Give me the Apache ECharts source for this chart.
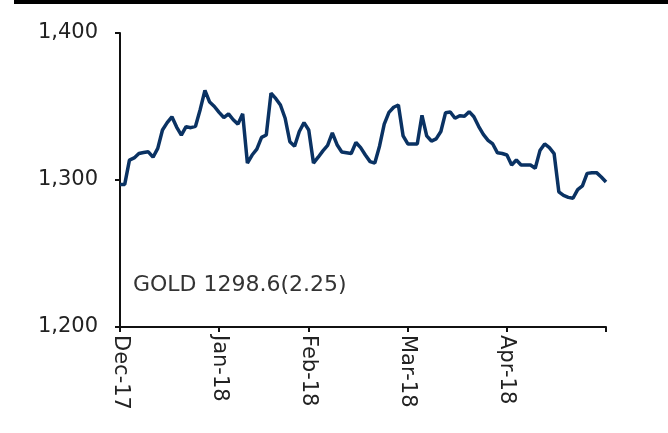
<!DOCTYPE html>
<html>
<head>
<meta charset="utf-8">
<script src="https://cdn.jsdelivr.net/npm/echarts@6/dist/echarts.min.js"></script>
<style>
  html, body { margin: 0; padding: 0; background: #fff; }
  #chart { width: 668px; height: 433px; }
</style>
</head>
<body>
<div id="chart"></div>
<script>
// month labels and how many points fall in each month on the axis
const months = ['Dec-17', 'Jan-18', 'Feb-18', 'Mar-18', 'Apr-18'];
const monthPoints = [21, 19, 21, 21, 22];

// gold price
const gold = [
  1297, 1297, 1313.5, 1315, 1318, 1318.7, 1319.2, 1315.5, 1321.5, 1334,
  1339, 1343, 1336, 1330.5, 1336.3, 1335.6, 1336.5, 1348, 1361, 1353,
  1350, 1346, 1342.5, 1345, 1341, 1338, 1345, 1311.5, 1317, 1321,
  1329, 1330.6, 1359, 1355.5, 1351, 1342, 1326, 1323, 1333, 1339,
  1334, 1311.5, 1315.5, 1319.8, 1323.5, 1332, 1324, 1319, 1318.5, 1318,
  1325.5, 1322, 1317, 1312.5, 1311.5, 1323, 1338, 1346, 1349.5, 1351,
  1330, 1324.5, 1324.5, 1324.5, 1344, 1330, 1326.5, 1328, 1333, 1345.8,
  1346.3, 1342, 1343.7, 1343.3, 1346.5, 1343, 1336.5, 1331, 1327, 1324.5,
  1318.5, 1318, 1317, 1310.2, 1313.6, 1310.2, 1310.2, 1310.2, 1308, 1320,
  1324.5, 1322, 1318, 1292, 1289.5, 1288.2, 1287.6, 1293.5, 1296, 1304.5,
  1305, 1305, 1302, 1298.6
];

const yTicks = [1200, 1300, 1400];
const caption = 'GOLD 1298.6(2.25)';

// build categories: one entry per point, month name + position
const categories = [];
const monthStarts = new Set();
months.forEach((m, k) => {
  for (let j = 0; j < monthPoints[k]; j++) {
    if (j === 0) monthStarts.add(categories.length);
    categories.push(m + ' ' + j);
  }
});
categories.length = gold.length;
const lastIdx = gold.length - 1;

const chart = echarts.init(document.getElementById('chart'));

const axisColor = '#111';
const font = '"DejaVu Sans", sans-serif';

chart.setOption({
  animation: false,
  grid: { left: 120, right: 62, top: 33, bottom: 106 },
  graphic: [
    {
      type: 'rect',
      left: 14, top: 0,
      shape: { width: 654, height: 4 },
      style: { fill: '#000' }
    },
    {
      type: 'text',
      left: 133, top: 274,
      style: {
        text: caption,
        fill: '#333',
        font: '22px ' + font
      }
    }
  ],
  xAxis: {
    type: 'category',
    data: categories,
    boundaryGap: false,
    axisLine: { lineStyle: { color: axisColor, width: 2 } },
    axisTick: {
      show: true,
      length: 5,
      interval: (i) => monthStarts.has(i) || i === lastIdx,
      lineStyle: { color: axisColor, width: 2 }
    },
    axisLabel: {
      interval: (i) => monthStarts.has(i),
      rotate: -90,
      margin: 8,
      color: '#222',
      fontSize: 21,
      fontFamily: font,
      formatter: (v) => v.split(' ')[0]
    },
    splitLine: { show: false }
  },
  yAxis: {
    type: 'value',
    min: yTicks[0],
    max: yTicks[yTicks.length - 1],
    interval: 100,
    axisLine: { show: true, lineStyle: { color: axisColor, width: 2 } },
    axisTick: { show: true, length: 5, lineStyle: { color: axisColor, width: 2 } },
    axisLabel: {
      margin: 22,
      color: '#222',
      fontSize: 21,
      fontFamily: font,
      formatter: (v) => v.toLocaleString('en-US')
    },
    splitLine: { show: false }
  },
  series: [
    {
      name: 'Gold',
      type: 'line',
      data: gold,
      showSymbol: false,
      lineStyle: { color: '#0a3263', width: 3.5 },
      itemStyle: { color: '#0a3263' }
    }
  ]
});
</script>
</body>
</html>
